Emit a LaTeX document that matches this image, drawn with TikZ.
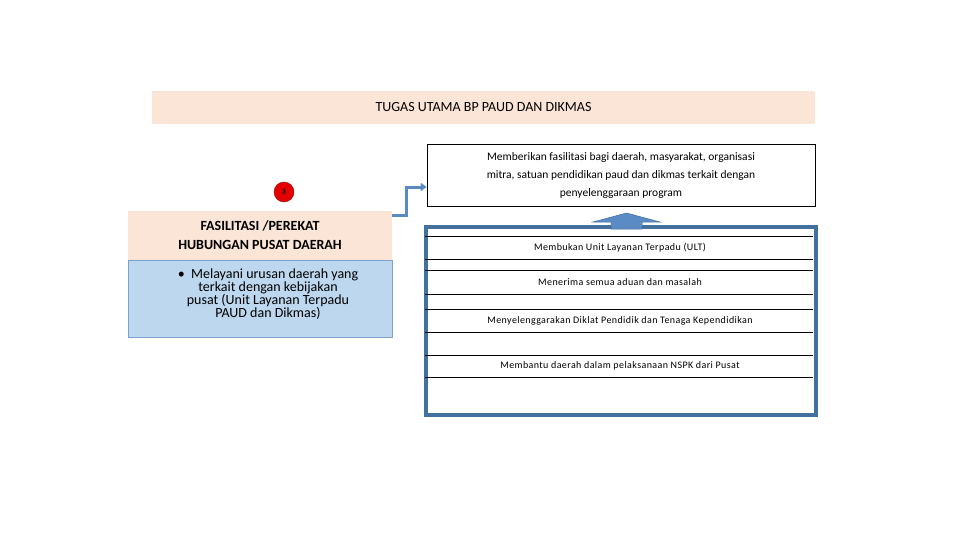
\documentclass[tikz,border=0pt]{standalone}
\usepackage{fontspec}
\setmainfont{Carlito}
\usetikzlibrary{arrows.meta}
\definecolor{peach}{HTML}{FBE5D6}
\definecolor{lblue}{HTML}{BDD7EE}
\definecolor{mblue}{HTML}{5B8BC4}
\definecolor{dblue}{HTML}{41719C}
\begin{document}
\begin{tikzpicture}[x=1pt,y=-1pt,
  row/.style={font=\fontsize{10}{12}\selectfont\addfontfeature{LetterSpace=4}, anchor=center},
  sep/.style={draw=black, line width=0.7pt}]
\useasboundingbox (0,0) rectangle (960,540);
\fill[white] (0,0) rectangle (960,540);
% title
\node[fill=peach, minimum width=663pt, minimum height=33pt, inner sep=0, font=\fontsize{14}{16}\selectfont] (title) at (483.5,107.5) {TUGAS UTAMA BP PAUD DAN DIKMAS};
% circle
\node[circle, fill=red!90!black, draw=red!60!black, minimum size=20pt, inner sep=0, font=\fontsize{8}{9}\selectfont\bfseries] (num) at (284,192) {3};
% left boxes
\node[fill=peach, minimum width=264pt, minimum height=49pt, inner sep=0, align=center, font=\fontsize{14}{19}\selectfont\bfseries] (head) at (260,235.5) {FASILITASI /PEREKAT\\HUBUNGAN PUSAT DAERAH};
\node[fill=lblue, draw=mblue!80, line width=0.6pt, minimum width=264pt, minimum height=77pt, inner sep=0, align=center, font=\fontsize{14}{13}\selectfont] (body) at (260,298.5) {};
\node[align=center, font=\fontsize{14}{13}\selectfont] (btxt) at (268,294) {\textbullet\ \ Melayani urusan daerah yang\\ terkait dengan kebijakan\\ pusat (Unit Layanan Terpadu\\ PAUD dan Dikmas)};
% top right box
\node[draw=black, line width=0.7pt, minimum width=388pt, minimum height=62pt, inner sep=0, align=center, font=\fontsize{11.5}{18}\selectfont] (fas) at (621,175) {Memberikan fasilitasi bagi daerah, masyarakat, organisasi\\mitra, satuan pendidikan paud dan dikmas terkait dengan\\penyelenggaraan program};
% connector
\coordinate (c1) at (406,215);
\coordinate (c2) at (406,187);
\draw[mblue, line width=3pt, -{Triangle[length=6pt,width=8pt]}] (head.east |- c1) -- (c1) -- (c2) -- (fas.west |- c2);
% big box
\node[draw=dblue, line width=3.5pt, minimum width=390pt, minimum height=188pt, inner sep=0] (big) at (621,321) {};
\foreach \y in {236.7,259,270,294.3,309.3,332.3,355,377.3} \draw[sep] (425,\y) -- (813,\y);
\node[row] (r1) at (620,247.5) {Membukan Unit Layanan Terpadu (ULT)};
\node[row] (r2) at (620,282.5) {Menerima semua aduan dan masalah};
\node[row] (r3) at (620,320.5) {Menyelenggarakan Diklat Pendidik dan Tenaga Kependidikan};
\node[row] (r4) at (620,365.5) {Membantu daerah dalam pelaksanaan NSPK dari Pusat};
% up arrow
\fill[mblue, draw=dblue, line width=0.5pt] (611,229) -- (611,222) -- (593,222) -- (626.5,213) -- (660,222) -- (642,222) -- (642,229) -- cycle;
\end{tikzpicture}
\end{document}
